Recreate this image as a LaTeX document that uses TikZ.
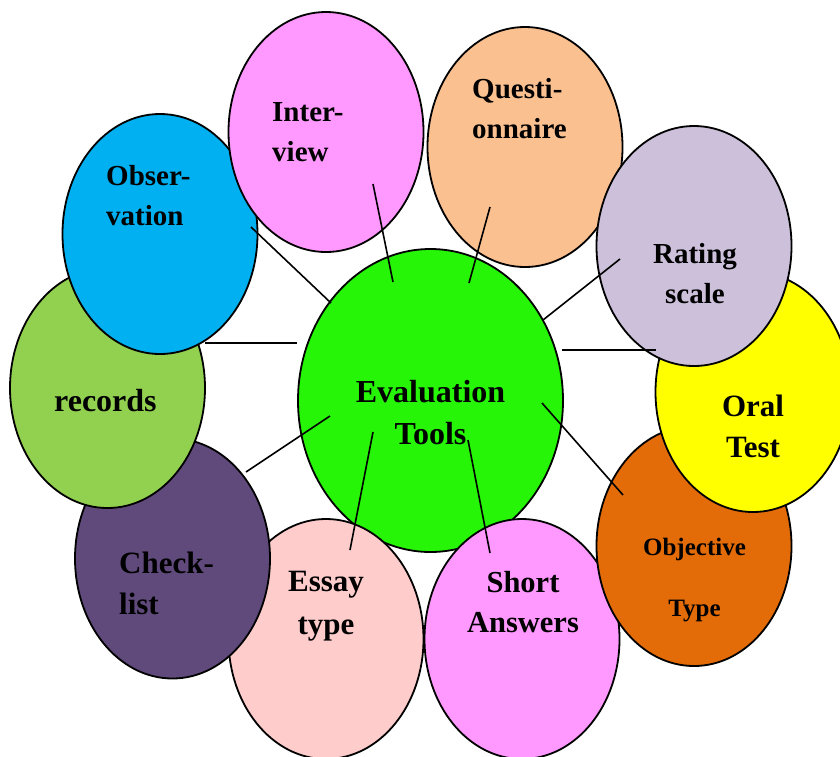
\documentclass[tikz,border=0pt]{standalone}
\usepackage{fontspec}
\setmainfont{Liberation Serif}
\usetikzlibrary{shapes.geometric}

\definecolor{evalgreen}{RGB}{38,245,8}
\definecolor{ivpink}{RGB}{255,153,255}
\definecolor{qupeach}{RGB}{250,192,144}
\definecolor{obsblue}{RGB}{0,176,240}
\definecolor{ratelilac}{RGB}{204,192,218}
\definecolor{recgreen}{RGB}{146,208,80}
\definecolor{oralyellow}{RGB}{255,255,0}
\definecolor{chkpurple}{RGB}{96,74,123}
\definecolor{objorange}{RGB}{227,108,9}
\definecolor{essaypink}{RGB}{255,204,204}

\begin{document}
\begin{tikzpicture}[
    x=1pt, y=-1pt,
    tool/.style={draw, ellipse, line width=1.8pt, inner sep=0pt,
        minimum width=195, minimum height=240},
    hub/.style={tool, minimum width=265, minimum height=303},
    lbl/.style={inner sep=0pt, font=\bfseries\fontsize{29}{40}\selectfont},
    biglbl/.style={inner sep=0pt, font=\bfseries\fontsize{31}{41}\selectfont},
    link/.style={line width=1.6pt},
]
\clip (0,0) rectangle (840,756);

% centre
\node[hub, fill=evalgreen] (ev) at (430.5,400.5) {};

% left chain
\node[tool, fill=essaypink] (es) at (326,639) {};
\node[tool, fill=chkpurple] (ch) at (172.5,558.5) {};
\node[tool, fill=recgreen] (re) at (107.5,388) {};
\node[tool, fill=obsblue] (ob) at (160,234) {};
\node[tool, fill=ivpink] (iv) at (326,132) {};

% right chain
\node[tool, fill=ivpink] (sh) at (522,639) {};
\node[tool, fill=objorange] (oj) at (694,546) {};
\node[tool, fill=oralyellow] (or) at (753,392) {};
\node[tool, fill=qupeach] (qu) at (525,147) {};
\node[tool, fill=ratelilac] (ra) at (694,246) {};

% labels
\node[biglbl, font=\bfseries\fontsize{32}{42}\selectfont, align=center, anchor=north]
    (evt) at ([shift={(0,-20.5)}]ev.center) {Evaluation\\Tools};
\node[lbl, align=left, anchor=north west] (ivt) at ([shift={(-54,-30)}]iv.center) {Inter-\\view};
\node[lbl, align=left, anchor=north west] (qut) at ([shift={(-53,-69)}]qu.center) {Questi-\\onnaire};
\node[lbl, align=left, anchor=north west] (obt) at ([shift={(-54,-69)}]ob.center) {Obser-\\vation};
\node[lbl, align=center, anchor=north] (rat) at ([shift={(1,-3)}]ra.center) {Rating\\scale};
\node[biglbl, font=\bfseries\fontsize{32}{42}\selectfont, anchor=base west]
    (ret) at ([shift={(-53.5,23)}]re.center) {records};
\node[biglbl, align=center, anchor=north] (ort) at ([shift={(0,3)}]or.center) {Oral\\Test};
\node[lbl, font=\bfseries\fontsize{25}{61}\selectfont, align=center, anchor=north]
    (ojt) at ([shift={(0.5,-8)}]oj.center) {Objective\\Type};
\node[biglbl, align=left, anchor=north west] (cht) at ([shift={(-53.5,-6.5)}]ch.center) {Check-\\list};
\node[biglbl, font=\bfseries\fontsize{31}{43}\selectfont, align=center, anchor=north]
    (est) at ([shift={(0,-68)}]es.center) {Essay\\type};
\node[lbl, font=\bfseries\fontsize{30.5}{40}\selectfont, align=center, anchor=north]
    (sht) at ([shift={(1,-68)}]sh.center) {Short\\Answers};

% spoke ends
\coordinate (obEnd) at (251,227);  \coordinate (evOb) at (331,303);
\coordinate (ivEnd) at (373,184);  \coordinate (evIv) at (393,282);
\coordinate (quEnd) at (490,207);  \coordinate (evQu) at (469,283);
\coordinate (raEnd) at (620,259);  \coordinate (evRa) at (543,320);
\coordinate (orEnd) at (656,350);  \coordinate (evOr) at (562,350);
\coordinate (ojEnd) at (623,495);  \coordinate (evOj) at (542,403);
\coordinate (shEnd) at (490,553);  \coordinate (evSh) at (468,440);
\coordinate (esEnd) at (350,550);  \coordinate (evEs) at (373,432);
\coordinate (chEnd) at (246,472);  \coordinate (evCh) at (330,416);
\coordinate (reEnd) at (205,343);  \coordinate (evRe) at (297,343);

\draw[link] (obEnd) -- (evOb);
\draw[link] (ivEnd) -- (evIv);
\draw[link] (quEnd) -- (evQu);
\draw[link] (raEnd) -- (evRa);
\draw[link] (orEnd) -- (evOr);
\draw[link] (ojEnd) -- (evOj);
\draw[link] (shEnd) -- (evSh);
\draw[link] (esEnd) -- (evEs);
\draw[link] (chEnd) -- (evCh);
\draw[link] (reEnd) -- (evRe);

\end{tikzpicture}
\end{document}
